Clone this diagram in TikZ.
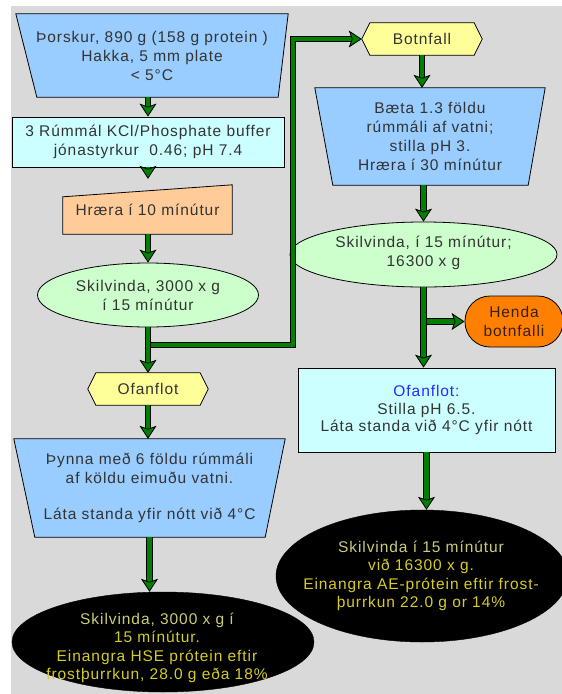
\documentclass[tikz,border=0pt]{standalone}
\usepackage{fontspec}
\setmainfont{Liberation Sans}[LetterSpace=6]
\usetikzlibrary{arrows.meta,shapes.geometric,calc}
\definecolor{bggray}{RGB}{217,217,217}
\definecolor{arrgreen}{RGB}{0,128,0}
\definecolor{tblue}{RGB}{153,204,255}
\definecolor{tcyan}{RGB}{204,255,255}
\definecolor{tpeach}{RGB}{255,204,153}
\definecolor{tgreen}{RGB}{204,255,204}
\definecolor{tyellow}{RGB}{255,255,153}
\definecolor{torange}{RGB}{255,128,0}
\definecolor{txt}{RGB}{51,51,51}
\definecolor{ylw}{RGB}{214,204,40}
\definecolor{ylwpale}{RGB}{204,204,120}
\definecolor{bword}{RGB}{40,40,255}
\definecolor{brownish}{RGB}{60,30,10}
\pgfdeclarelayer{bglayer}
\pgfdeclarelayer{shapelayer}
\pgfsetlayers{bglayer,shapelayer,main}
\tikzset{
  every node/.style={font=\fontsize{15.5}{19}\selectfont, text=txt, align=center, inner sep=0pt},
  frame/.style 2 args={minimum width=#1, minimum height=#2},
  outl/.style={draw=black, line width=0.8pt},
  conn/.style={draw=black, line width=0.8pt, double=arrgreen, double distance=4.6pt,
    -{Stealth[inset=3pt,length=13pt,width=17pt,fill=arrgreen]}},
  branch/.style={draw=black, line width=0.8pt, double=arrgreen, double distance=4.6pt, line join=miter,
    -{Stealth[inset=3pt,length=13pt,width=17pt,fill=arrgreen]}},
  darkell/.style={ellipse, fill=black, draw=black},
  ytext/.style={text=ylw, font=\fontsize{15.5}{18.5}\selectfont}
}
\begin{document}
\begin{tikzpicture}[x=1pt,y=-1pt]
\useasboundingbox (0,0) rectangle (562,694);
\begin{pgfonlayer}{bglayer}
  \fill[bggray] (11,6) rectangle (562,694);
\end{pgfonlayer}

% left column
\node[frame={272}{83}] (t1) at (152,55.5) {Þorskur, 890 g (158 g protein )\\Hakka, 5 mm plate\\< 5°C};
\node[outl, fill=tcyan, frame={272}{50}] (b2) at (148,142) {3 Rúmmál KCl/Phosphate buffer\\jónastyrkur\ \ 0.46; pH 7.4};
\node[frame={169}{49}, text depth=-7pt] (h3) at (147.5,209.5) {Hræra í 10 mínútur};
\node[outl, ellipse, fill=tgreen, frame={221}{64}] (e4) at (148,295) {Skilvinda, 3000 x g\\í 15 mínútur};
\node[frame={120}{32}] (o5) at (148,389) {Ofanflot};
\node[frame={271}{98}] (t6) at (149.5,488) {Þynna með 6 földu rúmmáli\\af köldu eimuðu vatni.\\[17pt]Láta standa yfir nótt við 4°C};
\node[darkell, frame={302}{100}] (e7) at (163,642) {};
\node[ytext] (e7t) at (157,648) {\textcolor{ylwpale}{Skilvinda, 3000 x g í}\\15 mínútur.\\Einangra HSE prótein eftir\\frostþurrkun, 28.0 g eða 18\%};

% right column
\node[frame={120}{32}] (bf) at (422,39) {Botnfall};
\node[frame={230}{97}] (t9) at (430,136.5) {Bæta 1.3 földu\\rúmmáli af vatni;\\stilla pH 3.\\Hræra í 30 mínútur};
\node[outl, ellipse, fill=tgreen, frame={267}{65}] (e10) at (423.5,254.5) {};
\node (e10t) at (423.5,252.5) {Skilvinda, í 15 mínútur;\\16300 x g};
\node[outl, fill=torange, rounded corners=25pt, frame={98}{51}, text=brownish] (hd) at (514,321.5) {Henda\\botnfalli};
\node[outl, fill=tcyan, frame={257}{84}, font=\fontsize{15.5}{17.5}\selectfont] (b12) at (426.5,410) {\textcolor{bword}{Ofanflot:}\\Stilla pH 6.5.\\Láta standa við 4°C yfir nótt};
\node[darkell, frame={292}{132}] (e13) at (422,576) {};
\node[ytext] (e13t) at (421,576) {\textcolor{ylwpale}{Skilvinda í 15 mínútur}\\við 16300 x g.\\Einangra AE-prótein eftir frost-\\þurrkun 22.0 g or 14\%};

% drawn shapes
\begin{pgfonlayer}{shapelayer}
  \path[outl, fill=tblue] (t1.north west) -- (t1.north east) -- ([xshift=-10pt]t1.south east) -- ([xshift=21pt]t1.south west) -- cycle;
  \path[outl, fill=tpeach] ([yshift=-12pt]h3.north west) -- (h3.north east) -- (h3.south east) -- (h3.south west) -- cycle;
  \path[outl, fill=tyellow] (o5.west) -- ([xshift=8pt]o5.north west) -- ([xshift=-8pt]o5.north east) -- (o5.east) -- ([xshift=-8pt]o5.south east) -- ([xshift=8pt]o5.south west) -- cycle;
  \path[outl, fill=tblue] (t6.north west) -- (t6.north east) -- ([xshift=-20pt]t6.south east) -- ([xshift=21pt]t6.south west) -- cycle;
  \path[outl, fill=tyellow] (bf.west) -- ([xshift=8pt]bf.north west) -- ([xshift=-8pt]bf.north east) -- (bf.east) -- ([xshift=-8pt]bf.south east) -- ([xshift=8pt]bf.south west) -- cycle;
  \path[outl, fill=tblue] (t9.north west) -- (t9.north east) -- ([xshift=-17pt]t9.south east) -- ([xshift=18pt]t9.south west) -- cycle;
\end{pgfonlayer}

% connectors
\coordinate (j1) at (148,345);
\coordinate (c1) at (293,345);
\coordinate (j2) at (e10.south |- hd.west);
\draw[branch] (j1) -- (c1) |- (bf.west);
\draw[branch] (j2) -- (hd.west);
\draw[conn] (t1.south -| b2.north) -- (b2.north);
\draw[conn, shorten >=6pt] (b2.south) -- (b2.south |- h3.north);
\draw[conn] (h3.south -| e4.north) -- (e4.north);
\draw[conn] (e4.south) -- (o5.north);
\draw[conn] (o5.south) -- (o5.south |- t6.north);
\draw[conn] (t6.south) -- (t6.south |- e7.north);
\draw[conn] (bf.south) -- (bf.south |- t9.north);
\draw[conn] (e10.north |- t9.south) -- (e10.north);
\draw[conn] (e10.south) -- (e10.south |- b12.north);
\draw[conn] (b12.south) -- (b12.south |- e13.north);
\end{tikzpicture}
\end{document}
